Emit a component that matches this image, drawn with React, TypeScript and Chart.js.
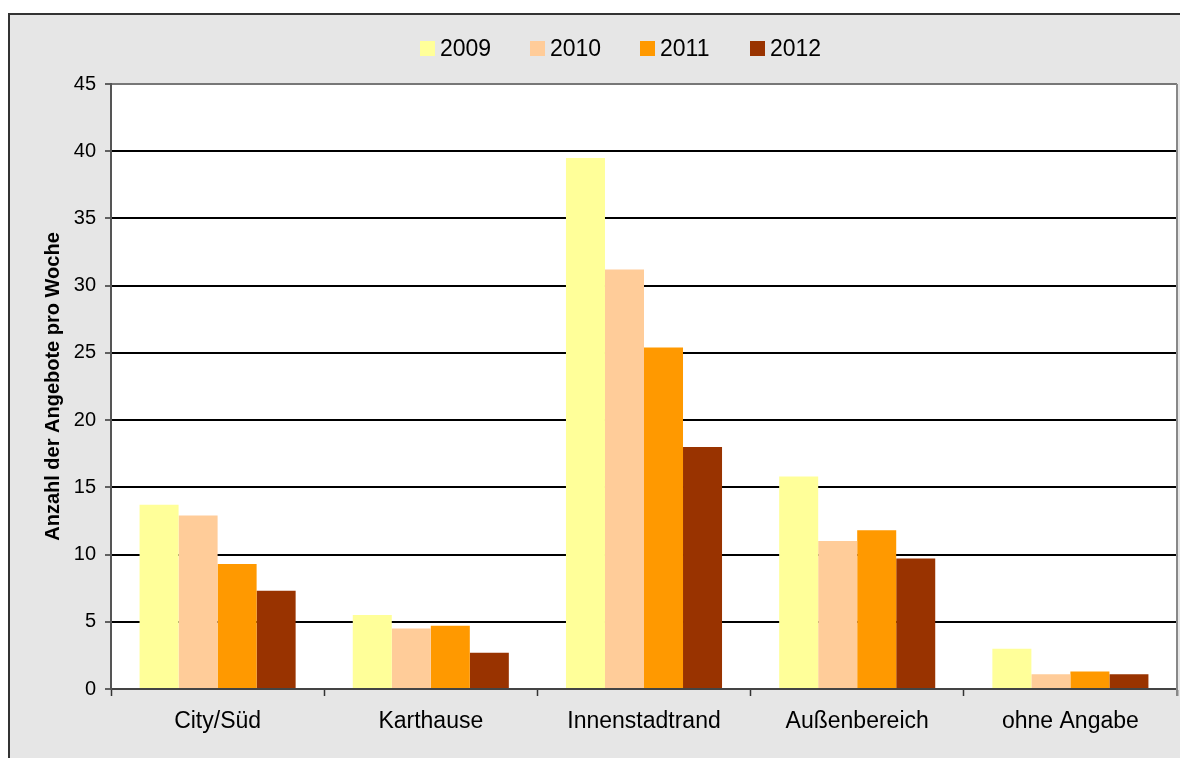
import React, { useEffect, useRef } from "react";
import { Chart, registerables } from "chart.js";

Chart.register(...registerables);

const categories = ["City/Süd", "Karthause", "Innenstadtrand", "Außenbereich", "ohne Angabe"];
const seriesLabels = ["2009", "2010", "2011", "2012"];
const values2009 = [13.7, 5.5, 39.5, 15.8, 3.0];
const values2010 = [12.9, 4.5, 31.2, 11.0, 1.1];
const values2011 = [9.3, 4.7, 25.4, 11.8, 1.3];
const values2012 = [7.3, 2.7, 18.0, 9.7, 1.1];
const seriesColors = ["#FFFF99", "#FFCC99", "#FF9900", "#993300"];
const yMin = 0;
const yMax = 45;
const yStep = 5;
const yAxisTitle = "Anzahl der Angebote pro Woche";

const FONT = "'Liberation Sans', Arial, sans-serif";

const plotBackground = {
  id: "plotBackground",
  beforeDraw(chart: any) {
    const { ctx, chartArea } = chart;
    ctx.save();
    ctx.fillStyle = "#ffffff";
    ctx.fillRect(chartArea.left, chartArea.top, chartArea.right - chartArea.left, chartArea.bottom - chartArea.top);
    ctx.restore();
  },
};

const plotRightBorder = {
  id: "plotRightBorder",
  afterDraw(chart: any) {
    const { ctx, chartArea } = chart;
    ctx.save();
    ctx.strokeStyle = "#888";
    ctx.lineWidth = 2;
    ctx.beginPath();
    ctx.moveTo(chartArea.right, chartArea.top);
    ctx.lineTo(chartArea.right, chartArea.bottom + 7);
    ctx.stroke();
    ctx.restore();
  },
};

const customLegend = {
  id: "customLegend",
  afterDraw(chart: any) {
    const { ctx } = chart;
    const startX = 410;
    const step = 110;
    const boxSize = 15;
    const boxTop = 26;
    ctx.save();
    ctx.font = `23px ${FONT}`;
    ctx.textBaseline = "alphabetic";
    ctx.textAlign = "left";
    chart.data.datasets.forEach((ds: any, i: number) => {
      const x = startX + i * step;
      ctx.fillStyle = ds.backgroundColor;
      ctx.fillRect(x, boxTop, boxSize, boxSize);
      ctx.fillStyle = "#000";
      ctx.fillText(ds.label, x + boxSize + 5, 41);
    });
    ctx.restore();
  },
};

export default function App() {
  const ref = useRef<HTMLCanvasElement>(null);

  useEffect(() => {
    document.documentElement.style.overflow = "hidden";
    document.body.style.overflow = "hidden";
    const seriesValues = [values2009, values2010, values2011, values2012];
    const chart = new Chart(ref.current as HTMLCanvasElement, {
      type: "bar",
      data: {
        labels: categories,
        datasets: seriesLabels.map((label, i) => ({
          label,
          data: seriesValues[i],
          backgroundColor: seriesColors[i],
          borderWidth: 0,
          categoryPercentage: 0.732,
          barPercentage: 1,
        })),
      },
      options: {
        responsive: false,
        animation: false,
        devicePixelRatio: 1,
        layout: { padding: { top: 69, left: 0, right: 3, bottom: 0 } },
        plugins: {
          legend: { display: false },
          tooltip: { enabled: false },
        },
        scales: {
          x: {
            afterFit(scale: any) {
              scale.height = 69;
            },
            grid: {
              offset: true,
              drawOnChartArea: false,
              drawTicks: true,
              tickLength: 7,
              tickColor: "#333",
              tickWidth: 1.5,
            },
            border: { display: true, color: "#444", width: 2 },
            ticks: {
              color: "#000",
              font: { family: FONT, size: 23 },
              padding: 12,
              maxRotation: 0,
              autoSkip: false,
            },
          },
          y: {
            min: yMin,
            max: yMax,
            afterFit(scale: any) {
              scale.width = 101;
            },
            ticks: {
              stepSize: yStep,
              color: "#000",
              font: { family: FONT, size: 20 },
              padding: 9,
            },
            grid: {
              color: (c: any) =>
                c.tick && c.tick.value === yMin ? "#444" : c.tick && c.tick.value === yMax ? "#777" : "#000",
              lineWidth: 2,
              tickColor: "#333",
              tickLength: 6,
              tickWidth: 1.5,
            },
            border: { display: true, color: "#555", width: 2 },
            title: {
              display: true,
              text: yAxisTitle,
              color: "#000",
              font: { family: FONT, size: 20, weight: "bold" },
              padding: { top: 31, bottom: 0 },
            },
          },
        },
      },
      plugins: [plotBackground, plotRightBorder, customLegend],
    });
    return () => chart.destroy();
  }, []);

  return (
    <div
      style={{
        position: "fixed",
        left: 8,
        top: 13,
        width: 1190,
        height: 760,
        border: "2px solid #333",
        background: "#e6e6e6",
      }}
    >
      <canvas
        ref={ref}
        width={1170}
        height={743}
        style={{ position: "absolute", left: 0, top: 0, width: 1170, height: 743 }}
      />
    </div>
  );
}
